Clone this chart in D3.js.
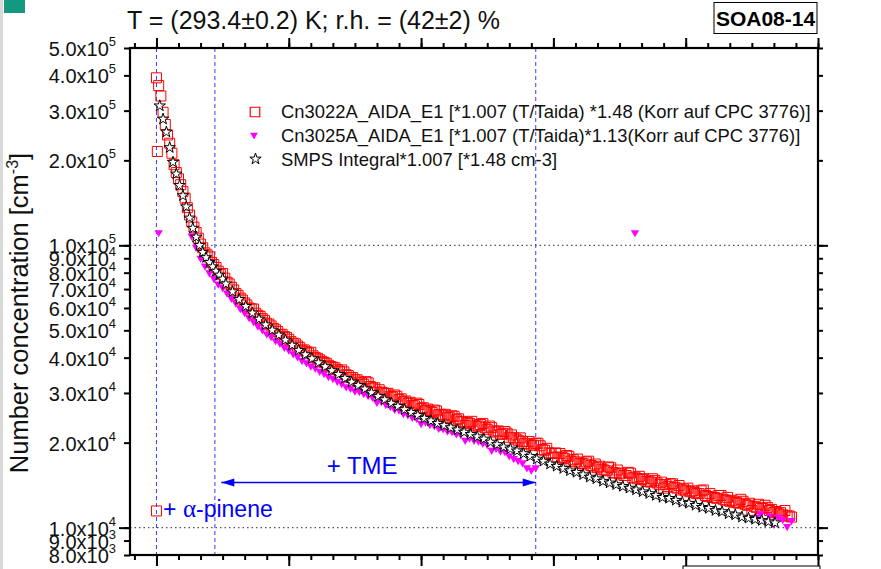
<!DOCTYPE html>
<html>
<head>
<meta charset="utf-8">
<script src="https://cdn.jsdelivr.net/npm/d3@7"></script>
<style>
  body { margin: 0; background: #fff; }
  svg { display: block; font-family: "Liberation Sans", Arial, sans-serif; }
</style>
</head>
<body>
<div id="chart"></div>
<script>
// time in minutes after alpha-pinene addition, concentrations in 10^3 cm^-3
const redStart = 0, redStep = 2;
const redValues = [
    392, 338, 268, 230, 193, 172, 155, 136, 121, 111, 101,
    94, 91, 85.5, 81, 79.5, 74, 71, 67.5, 65, 62.5,
    60, 59.5, 56.5, 55, 53, 51.8, 50.2, 48.2, 47.5, 46.5,
    45, 44, 42.5, 42, 41.8, 40, 39.3, 38.5, 37.6, 37,
    36.2, 36.2, 34.8, 34, 33.4, 32.8, 32.2, 32.6, 31.2, 30.2,
    30.2, 29.8, 29.2, 29.5, 28.4, 27.9, 27.5, 27.1, 27.6, 26.4,
    26, 25.8, 26.1, 25.1, 24.9, 24.6, 24.9, 24.1, 23.8, 23.0,
    23.4, 23.1, 22.9, 23.4, 22.3, 22.6, 21.8, 21.4, 21.9, 20.9,
    20.8, 20.4, 20.2, 19.8, 19.6, 19.9, 19.5, 18.8, 18.4, 17.7,
    17.8, 17.7, 18.0, 17.2, 17.1, 16.9, 16.8, 17.2, 16.4, 16.3,
    16.1, 15.9, 16.3, 15.6, 15.5, 15.3, 15.7, 15.0, 14.9, 14.8,
    14.6, 14.5, 14.7, 14.2, 13.8, 14.0, 14.3, 13.8, 13.6, 13.5,
    13.4, 13.3, 13.2, 13.6, 12.9, 12.8, 12.7, 13.0, 12.5, 12.4,
    12.3, 12.2, 12.4, 12.0, 11.5, 11.8, 11.7, 12.0, 11.5, 11.3,
    11.2, 11.1, 11.0, 10.9
];
const redOddStart = 1, redOddStep = 2;
const redOddValues = [
    368, 296, 246, 212, 181, 164, 147, 128, 116, 106,
    98, 92.5, 87, 83.5, 79, 76.5, 73, 69.5, 66.5, 64,
    61.5, 59.5, 57.5, 56, 54.2, 52.6, 50.8, 49.5, 48.4, 47.2,
    45.6, 44.8, 43.4, 42.6, 41.5, 40.6, 39.8, 38.8, 38.2, 37.2,
    36.8, 35.8, 35.6, 34.6, 34.0, 33.4, 32.6, 32.9, 31.6, 31.3,
    30.8, 30.0, 29.9, 29.0, 29.2, 28.6, 28.1, 27.8, 27.0, 27.3,
    26.6, 26.3, 25.6, 25.9, 25.2, 25.2, 24.5, 24.8, 24.3, 23.7,
    23.6, 23.8, 22.9, 23.2, 22.6, 22.9, 22.0, 22.0, 21.5, 21.6,
    21.3, 20.6, 20.8, 19.9, 20.2, 19.6, 19.9, 18.9, 19.1, 18.3,
    18.4, 18.3, 17.6, 17.9, 17.4, 17.5, 16.9, 17.1, 16.6, 16.8,
    16.5, 16.0, 16.4, 15.7, 16.0, 15.6, 15.3, 15.6, 15.1, 15.2,
    14.9, 14.6, 14.9, 14.4, 14.5, 14.2, 14.3, 13.9, 14.1, 13.7,
    13.8, 13.5, 13.2, 13.5, 13.0, 13.2, 12.8, 13.0, 12.6, 12.8,
    12.5, 12.3, 12.6, 12.1, 12.2, 11.9, 12.1, 11.7, 11.8, 11.6,
    11.4, 11.3, 11.5, 11.0
];
const redOutlierTimes = [0, 0.4];
const redOutlierValues = [11.46, 215];

const magentaStart = 16, magentaStep = 2;
const magentaValues = [
    108, 98.5, 90, 84.5, 80, 76.5, 73, 71, 67.8, 65,
    62.5, 59.8, 57.8, 55.5, 53.8, 51.8, 50.3, 48.6, 47.6, 46,
    45, 43.6, 42.6, 41.3, 40.3, 39.1, 38.4, 37.4, 36.8, 35.8,
    35.2, 34.3, 33.8, 33, 32.4, 31.6, 31.2, 30.5, 30.4, 29.9,
    29.4, 29.0, 27.8, 28.0, 27.3, 26.9, 26.3, 26.1, 25.4, 25.1,
    24.6, 24.4, 23.4, 23.7, 23.2, 23.0, 22.5, 22.4, 22.0, 21.9,
    21.5, 21.4, 20.4, 20.8, 20.4, 20.3, 19.9, 19.7, 18.8, 19.1,
    18.7, 18.6, 18.0, 17.6, 17.3, 17.0, 16.3, 16.0, 16.3
];
const magentaLateStart = 272, magentaLateStep = 2;
const magentaLateValues = [10.9, 11.2, 10.6, 11.0, 10.3, 10.9, 10.7, 10.1, 10.6];
const magentaOutlierTimes = [1, 217];
const magentaOutlierValues = [111, 111];

const smpsEarlyStart = 1.5, smpsEarlyStep = 1.5;
const smpsEarlyValues = [312, 280, 252, 222, 197, 179, 163, 150, 137, 125,
    115, 107, 100, 94.5, 90.5, 87, 84, 81, 78.5, 76];
const smpsStart = 31.5, smpsStep = 3;
const smpsValues = [
    73, 68.5, 64.3, 60.8, 57.6, 54.8, 52.3, 50.1, 48.1, 46.2,
    44.3, 42.5, 41.0, 39.7, 38.4, 37.2, 36.0, 34.9, 33.8, 32.8,
    31.9, 31.0, 30.1, 29.2, 28.4, 27.6, 26.9, 26.2, 25.6, 25.0,
    24.4, 23.9, 23.4, 23.0, 22.6, 22.2, 21.8, 21.4, 21.0, 20.6,
    20.1, 19.7, 19.3, 19.0, 18.7, 18.3, 17.9, 17.5, 17.2, 16.8,
    16.5, 16.2, 15.9, 15.7, 15.4, 15.1, 14.9, 14.6, 14.4, 14.2,
    14.0, 13.8, 13.6, 13.4, 13.2, 13.0, 12.8, 12.7, 12.5, 12.3,
    12.2, 12.0, 11.8, 11.7, 11.5, 11.4, 11.2, 11.1, 10.9, 10.8,
    10.7, 10.6, 10.5, 10.4
];

const legendLabels = [
    "Cn3022A_AIDA_E1 [*1.007 (T/Taida) *1.48 (Korr auf CPC 3776)]",
    "Cn3025A_AIDA_E1 [*1.007 (T/Taida)*1.13(Korr auf CPC 3776)]",
    "SMPS Integral*1.007 [*1.48 cm-3]"
];
const yTickValues = [8e3, 9e3, 1e4, 2e4, 3e4, 4e4, 5e4, 6e4, 7e4, 8e4, 9e4, 1e5, 2e5, 3e5, 4e5, 5e5];
const yMajorTicks = [1e4, 1e5];
const xMinorTicks = d3.range(-10, 301, 10);
const xMajorTicks = [0, 60, 120, 180, 240, 300];
const eventTimes = [0, 26.5, 172];      // alpha-pinene, TME start, TME end
const tmeArrow = [29.4, 172];

function series(start, step, values) {
    return values.map((v, i) => ({ t: start + i * step, v: v * 1000 }));
}
function points(times, values) {
    return values.map((v, i) => ({ t: times[i], v: v * 1000 }));
}

const redData = series(redStart, redStep, redValues)
    .concat(series(redOddStart, redOddStep, redOddValues))
    .concat(points(redOutlierTimes, redOutlierValues));
const magentaData = series(magentaStart, magentaStep, magentaValues)
    .concat(series(magentaLateStart, magentaLateStep, magentaLateValues))
    .concat(points(magentaOutlierTimes, magentaOutlierValues));
const smpsData = series(smpsEarlyStart, smpsEarlyStep, smpsEarlyValues)
    .concat(series(smpsStart, smpsStep, smpsValues));

const W = 881, H = 569;
const pL = 130, pR = 818, pT = 48, pB = 555;

const svg = d3.select("#chart").append("svg")
    .attr("width", W).attr("height", H);

// page decorations
svg.append("rect").attr("x", 0).attr("y", 0).attr("width", 3).attr("height", H).attr("fill", "#d9d9d9");
svg.append("rect").attr("x", 4).attr("y", 0).attr("width", 21).attr("height", 13).attr("fill", "#12997f");

const x = d3.scaleLinear().domain([-12, 300]).range([pL, pR]);
const y = d3.scaleLog().domain([8000, 500000]).range([pB, pT]);

// dotted reference lines
svg.append("g").selectAll("line").data(yMajorTicks).enter().append("line")
    .attr("x1", pL).attr("x2", pR)
    .attr("y1", d => y(d)).attr("y2", d => y(d))
    .attr("stroke", "#555").attr("stroke-width", 1.2).attr("stroke-dasharray", "1.5,3");

// dashed event lines
svg.append("g").selectAll("line").data(eventTimes).enter().append("line")
    .attr("x1", d => x(d)).attr("x2", d => x(d))
    .attr("y1", pT).attr("y2", pB)
    .attr("stroke", "#3a3aff").attr("stroke-width", 1).attr("stroke-dasharray", "4,3");

// axes: minor + major ticks on all four sides
function ticks(axis, tx, ty) {
    const g = svg.append("g").attr("transform", "translate(" + tx + "," + ty + ")").call(axis);
    g.select(".domain").remove();
    g.selectAll("line").attr("stroke", "#000").attr("stroke-width", 2);
    return g;
}
ticks(d3.axisTop(x).tickValues(xMinorTicks).tickSize(5).tickFormat(""), 0, pT);
ticks(d3.axisTop(x).tickValues(xMajorTicks).tickSize(10).tickFormat(""), 0, pT);
ticks(d3.axisBottom(x).tickValues(xMinorTicks).tickSize(5).tickFormat(""), 0, pB);
ticks(d3.axisBottom(x).tickValues(xMajorTicks).tickSize(11).tickFormat(""), 0, pB);
ticks(d3.axisLeft(y).tickValues(yTickValues).tickSize(6).tickFormat(""), pL, 0);
ticks(d3.axisLeft(y).tickValues(yMajorTicks).tickSize(11).tickFormat(""), pL, 0);
ticks(d3.axisRight(y).tickValues(yTickValues).tickSize(5).tickFormat(""), pR, 0);
ticks(d3.axisRight(y).tickValues(yMajorTicks).tickSize(10).tickFormat(""), pR, 0);

svg.append("rect")
    .attr("x", pL).attr("y", pT).attr("width", pR - pL).attr("height", pB - pT)
    .attr("fill", "none").attr("stroke", "#000").attr("stroke-width", 2.2);

// y tick labels  a.0x10^n
const yLab = svg.append("g").attr("font-size", 20).attr("text-anchor", "end").attr("fill", "#111");
yTickValues.forEach(v => {
    const e = Math.floor(Math.log10(v) + 1e-9);
    const m = v / Math.pow(10, e);
    const t = yLab.append("text").attr("x", 116).attr("y", y(v) + 8);
    t.append("tspan").text(m.toFixed(1) + "x10");
    t.append("tspan").attr("font-size", 13).attr("dy", -10).text(e);
});

// y axis title
const yt = svg.append("text")
    .attr("transform", "translate(28," + 313 + ") rotate(-90)")
    .attr("text-anchor", "middle").attr("font-size", 25.5).attr("fill", "#111");
yt.append("tspan").text("Number concentration [cm");
yt.append("tspan").attr("font-size", 16).attr("dy", -10).text("-3");
yt.append("tspan").attr("dy", 10).text("]");

// title and run label
svg.append("text").attr("x", 127).attr("y", 29).attr("font-size", 25).attr("fill", "#111")
    .text("T = (293.4\u00b10.2) K; r.h. = (42\u00b12) %");
svg.append("rect").attr("x", 714).attr("y", 2.5).attr("width", 103).attr("height", 31)
    .attr("fill", "#fff").attr("stroke", "#000").attr("stroke-width", 1);
svg.append("text").attr("x", 765.5).attr("y", 26).attr("font-size", 21).attr("font-weight", "bold")
    .attr("text-anchor", "middle").text("SOA08-14");
svg.append("rect").attr("x", 683).attr("y", 566).attr("width", 137).attr("height", 20)
    .attr("fill", "#fff").attr("stroke", "#000").attr("stroke-width", 1);

// symbols
const square = d3.symbol().type(d3.symbolSquare).size(100);
const tri = d3.symbol().type(d3.symbolTriangle).size(30);
const star = d3.symbol().type(d3.symbolStar).size(40);

svg.append("g").selectAll("path").data(redData).enter().append("path")
    .attr("d", square)
    .attr("transform", d => "translate(" + x(d.t) + "," + y(d.v) + ")")
    .attr("fill", "none").attr("stroke", "#ff0000").attr("stroke-width", 1);

svg.append("g").selectAll("path").data(magentaData).enter().append("path")
    .attr("d", tri)
    .attr("transform", d => "translate(" + x(d.t) + "," + y(d.v) + ") rotate(180)")
    .attr("fill", "#ff00ff");

svg.append("g").selectAll("path").data(smpsData).enter().append("path")
    .attr("d", star)
    .attr("transform", d => "translate(" + x(d.t) + "," + y(d.v) + ")")
    .attr("fill", "#fff").attr("stroke", "#000").attr("stroke-width", 1);

// legend
const legendY = [118, 142, 166];
const lg = svg.append("g").attr("font-size", 18.4).attr("fill", "#111");
lg.append("path").attr("d", square.size(90)()).attr("transform", "translate(255,112)")
    .attr("fill", "none").attr("stroke", "#ff0000").attr("stroke-width", 1.2);
lg.append("path").attr("d", tri.size(26)()).attr("transform", "translate(254,135) rotate(180)")
    .attr("fill", "#ff00ff");
lg.append("path").attr("d", star.size(40)()).attr("transform", "translate(255.5,159)")
    .attr("fill", "#fff").attr("stroke", "#000").attr("stroke-width", 1);
legendLabels.forEach((s, i) => {
    lg.append("text").attr("x", 281).attr("y", legendY[i]).text(s);
});

// TME arrow
const ay = y(14450);
const blue = "#0000ff";
svg.append("line").attr("x1", x(tmeArrow[0])).attr("x2", x(tmeArrow[1]))
    .attr("y1", ay).attr("y2", ay).attr("stroke", blue).attr("stroke-width", 1.5);
svg.append("path").attr("fill", blue)
    .attr("d", "M" + x(tmeArrow[0]) + "," + ay + "l13,-4l0,8z");
svg.append("path").attr("fill", blue)
    .attr("d", "M" + x(tmeArrow[1]) + "," + ay + "l-13,-4l0,8z");
svg.append("text").attr("x", x(77.2)).attr("y", 474).attr("font-size", 24).attr("fill", blue)
    .text("+ TME");

const ap = svg.append("text").attr("x", x(3)).attr("y", 517).attr("font-size", 23).attr("fill", blue);
ap.append("tspan").text("+ ");
ap.append("tspan").attr("font-family", "'Liberation Serif', serif").attr("font-size", 25).text("\u03b1");
ap.append("tspan").text("-pinene");
</script>
</body>
</html>
